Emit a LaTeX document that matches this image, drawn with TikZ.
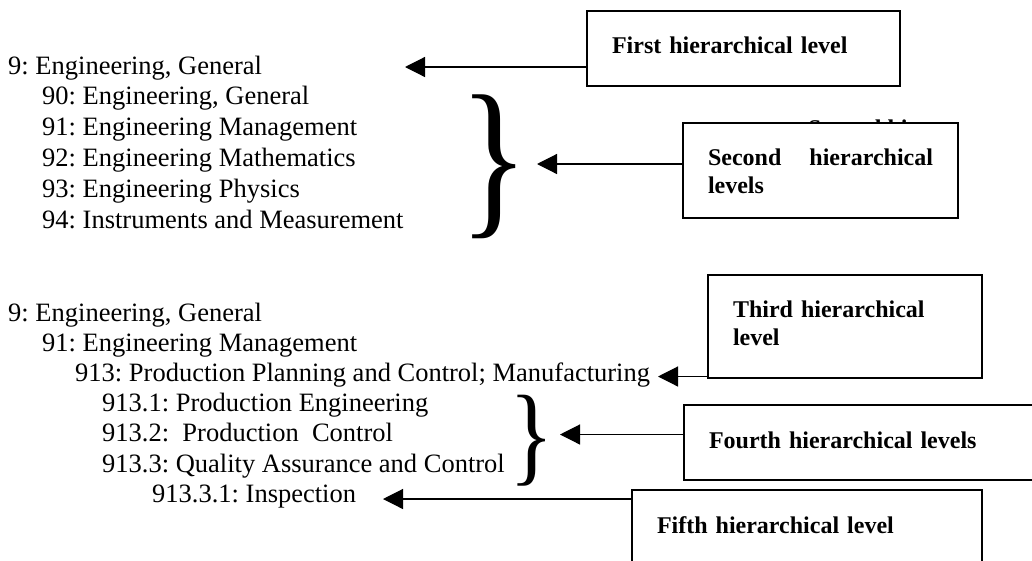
\documentclass[tikz,border=0pt]{standalone}
\usepackage{fontspec}
\setmainfont{Liberation Serif}
\usepackage{graphicx}
\usetikzlibrary{arrows.meta,positioning}
\frenchspacing

\begin{document}
\begin{tikzpicture}[
    x=1pt, y=-1pt,
    entry/.style={anchor=base west, inner sep=0pt, font=\fontsize{26.5}{30}\selectfont},
    levelbox/.style={draw, line width=2.2pt, fill=white, anchor=north west, outer sep=0pt,
        inner xsep=25pt, inner ysep=0pt, align=left, font=\bfseries\fontsize{24}{28}\selectfont},
    pointer/.style={-{Triangle[length=20pt,width=20pt]}, line width=1.2pt},
    bracket/.style={anchor=base west, inner sep=0pt}
]
    \useasboundingbox (0,0) rectangle (1032,560);
    \clip (0,0) rectangle (1032,560);

    % First and second levels
    \node[entry] (g9)  at (8,74)    {9: Engineering, General};
    \node[entry] (g90) at (42,104.8) {90: Engineering, General};
    \node[entry] (g91) at (42,135.6) {91: Engineering Management};
    \node[entry] (g92) at (42,166.4) {92: Engineering Mathematics};
    \node[entry] (g93) at (42,197.2) {93: Engineering Physics};
    \node[entry] (g94) at (42,228)   {94: Instruments and Measurement};
    \node[bracket, font=\fontsize{174}{174}\selectfont] (br1) at (459.5,215) {\scalebox{0.83}[1]{\}}};

    % Third, fourth and fifth levels
    \node[entry] (h9)    at (8,321)     {9: Engineering, General};
    \node[entry] (h91)   at (42,351.2)  {91: Engineering Management};
    \node[entry] (h913)  at (75,381.4)  {913: Production Planning and Control; Manufacturing};
    \node[entry] (h9131) at (102,411.6) {913.1: Production Engineering};
    \node[entry] (h9132) at (102,441.8) {913.2:\ \ Production\ \ Control};
    \node[entry] (h9133) at (102,472)   {913.3: Quality Assurance and Control};
    \node[entry] (h91331) at (152,502.2) {913.3.1: Inspection};
    \node[bracket, font=\fontsize{110}{110}\selectfont] (br2) at (509.5,471) {\scalebox{0.84}[1]{\}}};

    % Label boxes
    \node[levelbox, text width=263pt, minimum height=75pt, text depth=6pt] (first) at (587,11) {First hierarchical level};
    \node[anchor=base west, inner sep=0pt, font=\bfseries\fontsize{24}{28}\selectfont] (hidden) at (808,136) {Second hi};
    \node[levelbox, text width=225pt, minimum height=95pt, text depth=26.5pt] (second) at (683,123) {Second\hfill hierarchical\\levels};
    \node[levelbox, text width=224pt, minimum height=103pt, text depth=34.5pt] (third) at (708,275) {Third hierarchical\\level};
    \node[levelbox, text width=310pt, minimum height=75pt, text depth=4pt] (fourth) at (684,405) {Fourth hierarchical levels};
    \node[levelbox, text width=300pt, minimum height=80pt, text depth=9pt] (fifth) at (632,490) {Fifth hierarchical level};

    \coordinate (t1) at (405,67);
    \coordinate (t2) at (537,164);
    \coordinate (t3) at (658,376.5);
    \coordinate (t4) at (560,434.5);
    \coordinate (t5) at (383,499);

    \path[pointer]
        (first.west |- t1) edge (t1)
        (second.west |- t2) edge (t2)
        (third.west |- t3) edge (t3)
        (fourth.west |- t4) edge (t4)
        (fifth.west |- t5) edge (t5);
\end{tikzpicture}
\end{document}
